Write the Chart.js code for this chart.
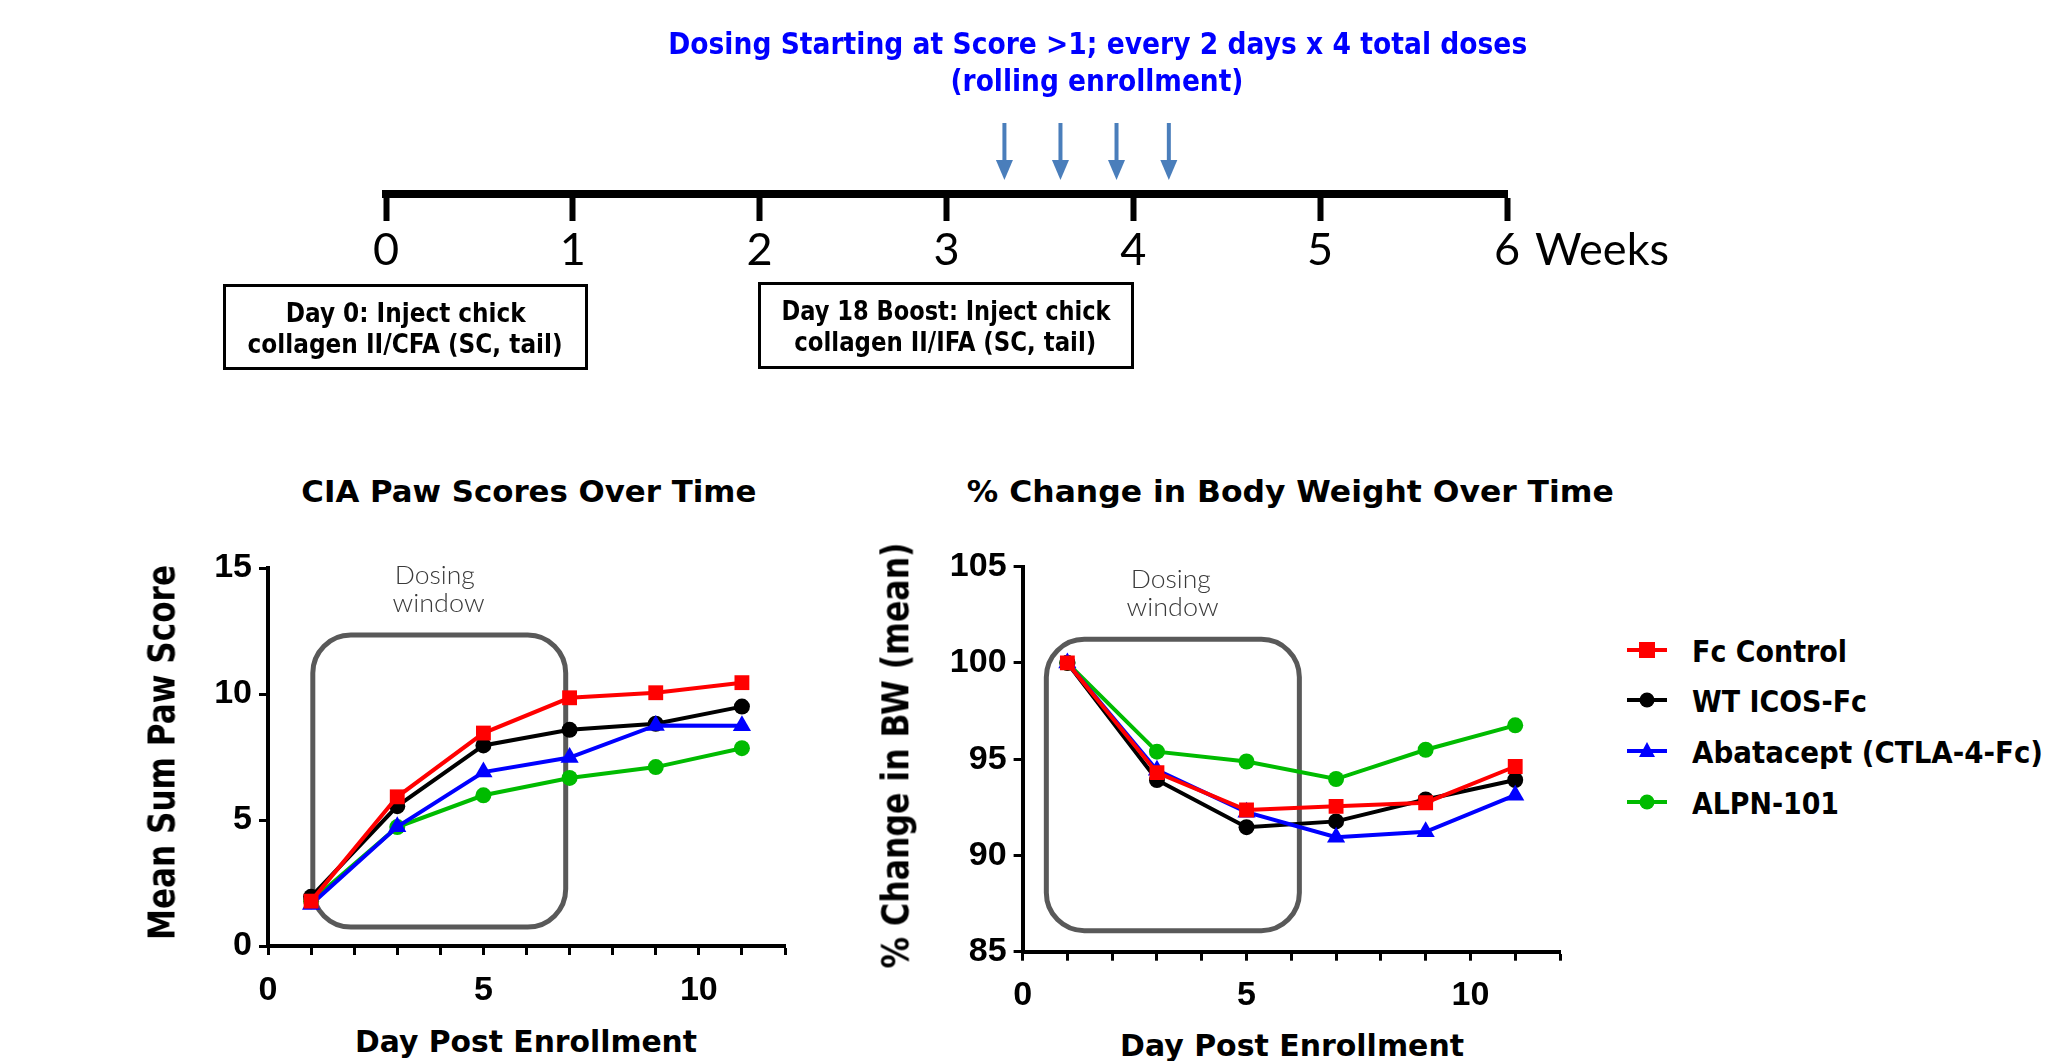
<!DOCTYPE html>
<html><head><meta charset="utf-8">
<script src="https://cdn.jsdelivr.net/npm/chart.js@4.4.1/dist/chart.umd.min.js"></script>
<style>
html,body{margin:0;padding:0;background:#fff;}
body{width:2048px;height:1061px;position:relative;overflow:hidden;}
canvas{position:absolute;}
.t{position:absolute;white-space:nowrap;margin:0;padding:0;}
.box{position:absolute;border:3px solid #000;box-sizing:border-box;}
svg{position:absolute;overflow:visible;}
</style></head><body>
<canvas id="tl" width="2048" height="300" style="left:0;top:0"></canvas>
<canvas id="paw" width="720" height="500" style="left:100px;top:520px"></canvas>
<canvas id="bw" width="720" height="500" style="left:860px;top:520px"></canvas>
<div class="box" style="left:223px;top:284px;width:365px;height:86px"></div>
<div class="box" style="left:758px;top:282px;width:376px;height:87px"></div>
<script>
// ---------- data ----------
const weekTicks = [0, 1, 2, 3, 4, 5, 6];
const doseWeeks = [3.31, 3.61, 3.91, 4.19];
const days = [1, 3, 5, 7, 9, 11];
const dayTicks = [0,1,2,3,4,5,6,7,8,9,10,11,12];
const dayLabels = [0, 5, 10];
const pawTicks = [0, 5, 10, 15];
const bwTicks = [85, 90, 95, 100, 105];
const seriesNames = ['Fc Control', 'WT ICOS-Fc', 'Abatacept (CTLA-4-Fc)', 'ALPN-101'];
const seriesColors = ['#ff0000', '#000000', '#0000ff', '#00bb00'];
const seriesMarkers = ['rect', 'circle', 'triangle', 'circle'];
const pawFc   = [1.78, 5.92, 8.45, 9.85, 10.05, 10.45];
const pawICOS = [1.95, 5.55, 7.96, 8.58, 8.82, 9.50];
const pawAbat = [1.65, 4.73, 6.90, 7.48, 8.75, 8.74];
const pawALPN = [1.78, 4.72, 5.98, 6.67, 7.10, 7.85];
const bwFc   = [100, 94.30, 92.36, 92.55, 92.74, 94.62];
const bwICOS = [100, 93.92, 91.47, 91.77, 92.91, 93.92];
const bwAbat = [100, 94.43, 92.25, 90.95, 91.23, 93.13];
const bwALPN = [100, 95.39, 94.88, 93.97, 95.49, 96.76];
const pawWindow = [1.04, 6.91, 0.75, 12.34];   // x from, x to, y from, y to
const bwWindow  = [0.53, 6.18, 86.09, 101.23];

// ---------- text helper ----------
const mctx = document.createElement('canvas').getContext('2d');
function addText(o) {
  const el = document.createElement('div');
  el.className = 't';
  el.textContent = o.text;
  const font = `${o.weight || 'normal'} ${o.size}px ${o.family}`;
  el.style.font = font;
  el.style.lineHeight = o.size + 'px';
  el.style.color = o.color || '#000';
  mctx.font = font;
  const m = mctx.measureText(o.text);
  const w = m.width;
  const fA = m.fontBoundingBoxAscent, fD = m.fontBoundingBoxDescent;
  const b = (o.size - (fA + fD)) / 2 + fA;
  const s = o.width ? o.width / w : 1;
  el.style.width = w + 'px';
  el.style.height = o.size + 'px';
  if (o.rot) {
    const cx = o.baseline - (b - o.size / 2);
    el.style.left = (cx - w / 2) + 'px';
    el.style.top = (o.cy - o.size / 2) + 'px';
    el.style.transform = `rotate(-90deg) scaleX(${s})`;
  } else if (o.left !== undefined) {
    el.style.transformOrigin = 'left center';
    el.style.left = o.left + 'px';
    el.style.top = (o.baseline - b) + 'px';
    el.style.transform = `scaleX(${s})`;
  } else {
    el.style.left = (o.cx - w / 2) + 'px';
    el.style.top = (o.baseline - b) + 'px';
    el.style.transform = `scaleX(${s})`;
  }
  document.body.appendChild(el);
}
const HEAD = "'DejaVu Sans', 'Liberation Sans', sans-serif";

// top texts
addText({text:'Dosing Starting at Score >1; every 2 days x 4 total doses', family:HEAD, weight:'bold', size:30, color:'#0000ff', cx:1098, baseline:54, width:859});
addText({text:'(rolling enrollment)', family:HEAD, weight:'bold', size:30, color:'#0000ff', cx:1097, baseline:91, width:293});
addText({text:'Weeks', family:'Lato, sans-serif', size:45, left:1535, baseline:265, width:134});
addText({text:'Day 0: Inject chick', family:HEAD, weight:'bold', size:27, cx:406, baseline:322, width:240});
addText({text:'collagen II/CFA (SC, tail)', family:HEAD, weight:'bold', size:27, cx:405, baseline:353, width:315});
addText({text:'Day 18 Boost: Inject chick', family:HEAD, weight:'bold', size:27, cx:946, baseline:320, width:329});
addText({text:'collagen II/IFA (SC, tail)', family:HEAD, weight:'bold', size:27, cx:945, baseline:351, width:302});
// chart titles
addText({text:'CIA Paw Scores Over Time', family:HEAD, weight:'bold', size:31, cx:529, baseline:502, width:455});
addText({text:'% Change in Body Weight Over Time', family:HEAD, weight:'bold', size:31, cx:1290, baseline:502, width:647});
addText({text:'Mean Sum Paw Score', family:HEAD, weight:'bold', size:37, rot:true, baseline:174, cy:752, width:375});
addText({text:'% Change in BW (mean)', family:HEAD, weight:'bold', size:37, rot:true, baseline:908, cy:755, width:426});
addText({text:'Day Post Enrollment', family:HEAD, weight:'bold', size:31, cx:526, baseline:1052, width:342});
addText({text:'Day Post Enrollment', family:HEAD, weight:'bold', size:31, cx:1292, baseline:1056, width:344});
// dosing window labels
const LIGHT = 'Lato, sans-serif';
addText({text:'Dosing', family:LIGHT, weight:'300', size:25, color:'#3a3a3a', cx:435, baseline:584, width:80});
addText({text:'window', family:LIGHT, weight:'300', size:25, color:'#3a3a3a', cx:439, baseline:612, width:92});
addText({text:'Dosing', family:LIGHT, weight:'300', size:25, color:'#3a3a3a', cx:1171, baseline:588, width:80});
addText({text:'window', family:LIGHT, weight:'300', size:25, color:'#3a3a3a', cx:1173, baseline:616, width:92});

// legend
const legendRows = [650, 700, 751, 802];
const legendWidths = [155, 175, 351, 147];
seriesNames.forEach((name, i) => {
  const y = legendRows[i];
  const ns = 'http://www.w3.org/2000/svg';
  const svg = document.createElementNS(ns, 'svg');
  svg.setAttribute('width', 44); svg.setAttribute('height', 24);
  svg.style.left = '1625px'; svg.style.top = (y - 12) + 'px';
  const ln = document.createElementNS(ns, 'line');
  ln.setAttribute('x1', 2); ln.setAttribute('x2', 42); ln.setAttribute('y1', 12); ln.setAttribute('y2', 12);
  ln.setAttribute('stroke', seriesColors[i]); ln.setAttribute('stroke-width', 4);
  svg.appendChild(ln);
  let mk;
  if (seriesMarkers[i] === 'rect') {
    mk = document.createElementNS(ns, 'rect');
    mk.setAttribute('x', 14); mk.setAttribute('y', 4); mk.setAttribute('width', 16); mk.setAttribute('height', 16);
  } else if (seriesMarkers[i] === 'triangle') {
    mk = document.createElementNS(ns, 'polygon');
    mk.setAttribute('points', '22,3 30,18 14,18');
  } else {
    mk = document.createElementNS(ns, 'circle');
    mk.setAttribute('cx', 22); mk.setAttribute('cy', 12); mk.setAttribute('r', 7.5);
  }
  mk.setAttribute('fill', seriesColors[i]);
  svg.appendChild(mk);
  document.body.appendChild(svg);
  addText({text:name, family:HEAD, weight:'bold', size:31, left:1692, baseline:y + 12, width:legendWidths[i]});
});

// ---------- charts ----------
const TICKFONT = {family:"'Liberation Sans', Arial, sans-serif", weight:'bold', size:34};

function windowPlugin(box) {
  return {
    id: 'dosingWindow',
    beforeDatasetsDraw(chart) {
      const {x, y} = chart.scales;
      const ctx = chart.ctx;
      const x0 = x.getPixelForValue(box[0]), x1 = x.getPixelForValue(box[1]);
      const y0 = y.getPixelForValue(box[3]), y1 = y.getPixelForValue(box[2]);
      ctx.save();
      ctx.strokeStyle = '#595959';
      ctx.lineWidth = 5;
      ctx.beginPath();
      ctx.roundRect(x0, y0, x1 - x0, y1 - y0, 38);
      ctx.stroke();
      ctx.restore();
    }
  };
}

function makeDatasets(arrs) {
  return arrs.map((arr, i) => ({
    label: seriesNames[i],
    data: days.map((d, k) => ({x: d, y: arr[k]})),
    borderColor: seriesColors[i],
    backgroundColor: seriesColors[i],
    borderWidth: 4,
    showLine: true,
    tension: 0,
    pointStyle: seriesMarkers[i],
    pointRadius: seriesMarkers[i] === 'rect' ? 10.5 : (seriesMarkers[i] === 'triangle' ? 10.5 : 8),
    pointBorderWidth: 0,
    order: [0, 2, 1, 3][i]
  }));
}

function dataChart(id, arrs, yTicks, yMin, yMax, pad, yWidth, box) {
  return new Chart(document.getElementById(id), {
    type: 'scatter',
    data: {datasets: makeDatasets(arrs)},
    options: {
      responsive: false, animation: false, events: [],
      layout: {padding: pad},
      plugins: {legend: {display: false}, tooltip: {enabled: false}},
      scales: {
        x: {
          type: 'linear', min: 0, max: 12,
          afterBuildTicks: s => { s.ticks = dayTicks.map(v => ({value: v})); },
          afterFit: s => { s.height = 60; },
          ticks: {autoSkip: false, maxRotation: 0, font: TICKFONT, color: '#000', padding: 15,
                  callback: v => dayLabels.includes(v) ? String(v) : ''},
          grid: {drawOnChartArea: false, drawTicks: true, tickLength: 9, tickWidth: 3, tickColor: '#000'},
          border: {display: true, color: '#000', width: 4}
        },
        y: {
          type: 'linear', min: yMin, max: yMax,
          afterBuildTicks: s => { s.ticks = yTicks.map(v => ({value: v})); },
          afterFit: s => { s.width = yWidth; },
          ticks: {font: TICKFONT, color: '#000', padding: 7},
          grid: {drawOnChartArea: false, drawTicks: true, tickLength: 9, tickWidth: 3, tickColor: '#000'},
          border: {display: true, color: '#000', width: 4}
        }
      }
    },
    plugins: [windowPlugin(box)]
  });
}

dataChart('paw', [pawFc, pawICOS, pawAbat, pawALPN], pawTicks, 0, 15,
  {left: 18, right: 35, top: 48, bottom: 14}, 150, pawWindow);
dataChart('bw', [bwFc, bwICOS, bwAbat, bwALPN], bwTicks, 85, 105,
  {left: 12.6, right: 20, top: 46.7, bottom: 8.3}, 150, bwWindow);

// timeline
const arrowPlugin = {
  id: 'doseArrows',
  afterDraw(chart) {
    const xs = chart.scales.x;
    const ctx = chart.ctx;
    const base = chart.chartArea.bottom;
    ctx.save();
    ctx.fillStyle = '#4a7ebb';
    ctx.strokeStyle = '#4a7ebb';
    doseWeeks.forEach(w => {
      const px = xs.getPixelForValue(w);
      ctx.lineWidth = 4;
      ctx.beginPath();
      ctx.moveTo(px, base - 71);
      ctx.lineTo(px, base - 30);
      ctx.stroke();
      ctx.beginPath();
      ctx.moveTo(px - 8.5, base - 34);
      ctx.lineTo(px + 8.5, base - 34);
      ctx.lineTo(px, base - 14);
      ctx.closePath();
      ctx.fill();
    });
    ctx.restore();
  }
};
new Chart(document.getElementById('tl'), {
  type: 'scatter',
  data: {datasets: [{data: []}]},
  options: {
    responsive: false, animation: false, events: [],
    layout: {padding: {left: 386, right: 2048 - 1507, top: 100, bottom: 0}},
    plugins: {legend: {display: false}, tooltip: {enabled: false}},
    scales: {
      x: {
        type: 'linear', min: 0, max: 6,
        afterBuildTicks: s => { s.ticks = weekTicks.map(v => ({value: v})); },
        afterFit: s => { s.height = 106; },
        ticks: {font: {family: 'Lato, sans-serif', size: 45}, color: '#000', padding: 2, maxRotation: 0, autoSkip: false},
        grid: {drawOnChartArea: false, drawTicks: true, tickLength: 27, tickWidth: 6, tickColor: '#000'},
        border: {display: true, color: '#000', width: 8}
      },
      y: {display: false, min: 0, max: 1}
    }
  },
  plugins: [arrowPlugin]
});
</script>
</body></html>
